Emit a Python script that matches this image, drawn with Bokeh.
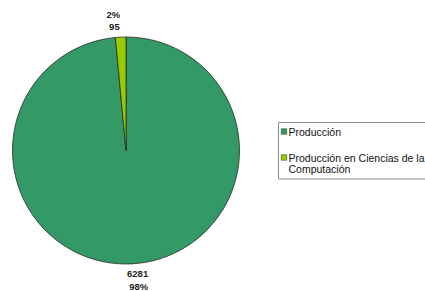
import textwrap
import numpy as np
from bokeh.plotting import figure
from bokeh.models import Range1d
from bokeh.embed import file_html
from bokeh.resources import INLINE
from bokeh.core.properties import value

# ---- data ----
categories = ["Producción", "Producción en Ciencias de la Computación"]
counts = [6281, 95]
percent_labels = ["98%", "2%"]
colors = ["#339966", "#99CC00"]

# ---- figure (data units == screen pixels) ----
W, H = 425, 291
p = figure(width=W, height=H, output_backend="svg", toolbar_location=None,
           x_range=Range1d(0, W), y_range=Range1d(0, H), min_border=0)
p.axis.visible = False
p.grid.visible = False
p.outline_line_color = None
p.background_fill_color = "white"
p.border_fill_color = "white"

def sy(y):  # screen y -> data y
    return H - y

cx, cy, r = 125.5, sy(150), 113.5
total = float(sum(counts))
frac = np.array(counts) / total
cum = np.concatenate([[0], np.cumsum(frac)])
start = np.pi / 2 - 2 * np.pi * cum[:-1]
end = np.pi / 2 - 2 * np.pi * cum[1:]

p.wedge(x=[cx] * len(counts), y=[cy] * len(counts), radius=r,
        start_angle=list(start), end_angle=list(end), direction="clock",
        fill_color=colors, line_color="#2a2a2a", line_width=0.8)

# ---- slice labels: value nearer, percent farther ----
mid = 2 * np.pi * (cum[:-1] + cum[1:]) / 2  # clockwise from top
for i in range(len(counts)):
    s, c = np.sin(mid[i]), np.cos(mid[i])
    for rr, txt in ((r + 10.5, str(counts[i])), (r + 22.5, percent_labels[i])):
        p.text(x=[cx + rr * s * 2.0], y=[cy + rr * c], text=[txt],
               text_align="center", text_baseline="middle",
               text_font=value("Liberation Sans"), text_font_style="bold",
               text_font_size="9.5px", text_color="#222222")

# ---- legend ----
p.quad(left=[278], right=[440], top=[sy(122)], bottom=[sy(178.5)],
       fill_color="white", line_color="#8c8c8c", line_width=1)
row_y = [131, 157]
for i, cat in enumerate(categories):
    p.rect(x=[283.5], y=[sy(row_y[i])], width=5.5, height=5.5,
           fill_color=colors[i], line_color="#333333", line_width=0.5)
    for j, line in enumerate(textwrap.wrap(cat, 28)):
        p.text(x=[288], y=[sy(row_y[i] + j * 11.5)], text=[line],
               text_align="left", text_baseline="middle",
               text_font=value("Liberation Sans"), text_font_size="10.5px",
               text_color="#111111")

open("out.html", "w").write(file_html(p, INLINE))
